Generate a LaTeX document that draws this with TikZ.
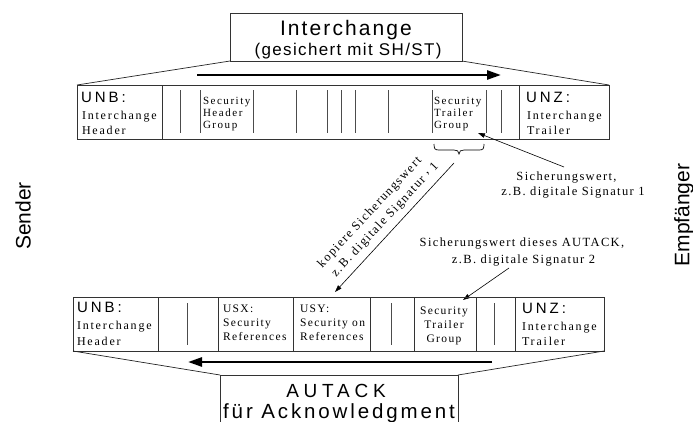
\documentclass[tikz,border=0pt]{standalone}
\usepackage{fontspec}
\setmainfont{Liberation Serif}
\setsansfont{Liberation Sans}
\usetikzlibrary{arrows.meta}
\tikzset{
 frame/.style={draw=black!80, line width=0.8pt},
 bar/.style={draw=black!70, line width=1pt},
 edge/.style={draw=black!85, line width=0.7pt},
 bigarrow/.style={line width=2.6pt, -{Triangle[length=14pt,width=9pt]}},
 thinarrow/.style={line width=0.6pt, -{Triangle[length=7pt,width=4.5pt]}},
 txt/.style={inner sep=0pt, outer sep=0pt},
 titleA/.style={txt, font=\sffamily\fontsize{21}{25}\selectfont\addfontfeature{LetterSpace=10}},
 titleB/.style={txt, font=\sffamily\fontsize{17}{20}\selectfont\addfontfeature{LetterSpace=8}},
 titleC/.style={txt, font=\sffamily\fontsize{19}{22}\selectfont\addfontfeature{LetterSpace=25}},
 titleD/.style={txt, font=\sffamily\fontsize{20.5}{24}\selectfont\addfontfeature{LetterSpace=14}},
 side/.style={txt, font=\sffamily\fontsize{21}{25}\selectfont, rotate=90},
 seg/.style={txt, anchor=base west, font=\sffamily\fontsize{15}{18}\selectfont\addfontfeature{LetterSpace=20}},
 cellt/.style={txt, anchor=base west, font=\rmfamily\fontsize{12}{14}\selectfont\addfontfeature{LetterSpace=15}},
 small/.style={txt, anchor=base west, font=\rmfamily\fontsize{11}{12}\selectfont\addfontfeature{LetterSpace=14}},
 smallb/.style={txt, anchor=base west, font=\rmfamily\fontsize{11.5}{13}\selectfont\addfontfeature{LetterSpace=12}},
 note/.style={txt, anchor=base, font=\rmfamily\fontsize{12.5}{15}\selectfont\addfontfeature{LetterSpace=11}},
}
\begin{document}
\begin{tikzpicture}[x=1pt,y=-1pt]
\useasboundingbox (0,0) rectangle (693,421);
\clip (0,0) rectangle (693,421);
\fill[white] (0,0) rectangle (693,421);

% ---------- top box "Interchange"
\coordinate (ibtl) at (230,13);
\coordinate (ibbr) at (462,61);
\coordinate (ibbl) at (230,61);
\draw[frame] (ibtl) rectangle (ibbr);
\node[titleA, anchor=base] (ititle) at (346,35) {Interchange};
\node[titleB, anchor=base] (isub) at (348,55) {(gesichert mit SH/ST)};

% ---------- upper band
\coordinate (ubtl) at (77,85);
\coordinate (ubbr) at (609,139);
\coordinate (ubtr) at (609,85);
\draw[frame] (ubtl) rectangle (ubbr);
\draw[frame] (162,85) -- (162,139);
\draw[frame] (519,85) -- (519,139);
\foreach \x in {180,200,253,296,327,341,355,388,432,486,501}
  \draw[bar] (\x,90) -- (\x,133);
\draw[edge] (ibbl) -- (ubtl);
\draw[edge] (ibbr |- ibbl) -- (ubtr);

\coordinate (ua1) at (197,75);
\coordinate (ua2) at (501,75);
\draw[bigarrow] (ua1) -- (ua2);

\node[seg] (unb1) at (81,102) {UNB:};
\node[cellt] (unb1a) at (82,119) {Interchange};
\node[cellt] (unb1b) at (82,134) {Header};
\node[small] (shg1) at (203,104) {Security};
\node[small] (shg2) at (203,116) {Header};
\node[small] (shg3) at (203,128) {Group};
\node[small] (stg1) at (434,104) {Security};
\node[small] (stg2) at (434,116) {Trailer};
\node[small] (stg3) at (434,128) {Group};
\node[seg] (unz1) at (526,102) {UNZ:};
\node[cellt] (unz1a) at (527,119) {Interchange};
\node[cellt] (unz1b) at (527,134) {Trailer};

% brace under upper Security Trailer Group
\coordinate (brtip) at (459,154);
\draw[line width=0.7pt] (434,144) .. controls (434,149) and (435,150) .. (439,150)
  -- (454,150) .. controls (457,150) and (459,151) .. (brtip)
  .. controls (459,151) and (461,150) .. (464,150)
  -- (479,150) .. controls (483,150) and (484,149) .. (484,144);

% note 1
\node[note] (sw1a) at (566.5,180) {Sicherungswert,};
\node[note] (sw1b) at (573,195) {z.B. digitale Signatur 1};
\coordinate (sw1tail) at (564,167);
\coordinate (sw1head) at (478,133);
\draw[thinarrow] (sw1tail) -- (sw1head);

% diagonal copy arrow
\coordinate (cptail) at (454,163);
\coordinate (cphead) at (335,292);
\draw[thinarrow] (cptail) -- (cphead);
\node[note, rotate=47] (cp1) at (372.2,214.7) {kopiere Sicherungswert};
\node[note, rotate=47] (cp2) at (387.4,222.0) {z.B. digitale Signatur \raisebox{.6ex}{,} 1};

% note 2
\node[note] (sw2a) at (522,246) {Sicherungswert dieses AUTACK,};
\node[note] (sw2b) at (523.5,263) {z.B. digitale Signatur 2};
\coordinate (sw2tail) at (509,268);
\coordinate (sw2head) at (463,300);
\draw[thinarrow] (sw2tail) -- (sw2head);

% ---------- lower band
\coordinate (lbtl) at (73,297);
\coordinate (lbbr) at (604,351);
\coordinate (lbbl) at (73,351);
\draw[frame] (lbtl) rectangle (lbbr);
\foreach \x in {158,218,293,370,414,476,515}
  \draw[frame] (\x,297) -- (\x,351);
\foreach \x in {187,391,494}
  \draw[bar] (\x,303) -- (\x,345);

\node[seg] (unb2) at (77,312) {UNB:};
\node[cellt] (unb2a) at (77,329) {Interchange};
\node[cellt] (unb2b) at (77,345) {Header};
\node[smallb] (usx1) at (223,312) {USX:};
\node[smallb] (usx2) at (223,326) {Security};
\node[smallb] (usx3) at (223,340) {References};
\node[smallb] (usy1) at (300,312) {USY:};
\node[smallb] (usy2) at (300,326) {Security on};
\node[smallb] (usy3) at (300,340) {References};
\node[smallb, anchor=base] (stl1) at (444,314) {Security};
\node[smallb, anchor=base] (stl2) at (444,328) {Trailer};
\node[smallb, anchor=base] (stl3) at (444,342) {Group};
\node[seg] (unz2) at (522,313) {UNZ:};
\node[cellt] (unz2a) at (522,330) {Interchange};
\node[cellt] (unz2b) at (522,345) {Trailer};

\coordinate (la1) at (492,362);
\coordinate (la2) at (188,362);
\draw[bigarrow] (la1) -- (la2);

% ---------- AUTACK box
\coordinate (abtl) at (220,375);
\coordinate (abtr) at (458,375);
\draw[edge] (lbbl) -- (abtl);
\draw[edge] (lbbr) -- (abtr);
\draw[frame] (220,430) -- (abtl) -- (abtr) -- (458,430);
\node[titleC, anchor=base] (aut) at (336,397) {AUTACK};
\node[titleD, anchor=base] (autb) at (339,418) {für Acknowledgment};

% ---------- side labels
\node[side] (sender) at (23,216) {Sender};
\node[side] (empf) at (684,215) {Empfänger};
\end{tikzpicture}
\end{document}
